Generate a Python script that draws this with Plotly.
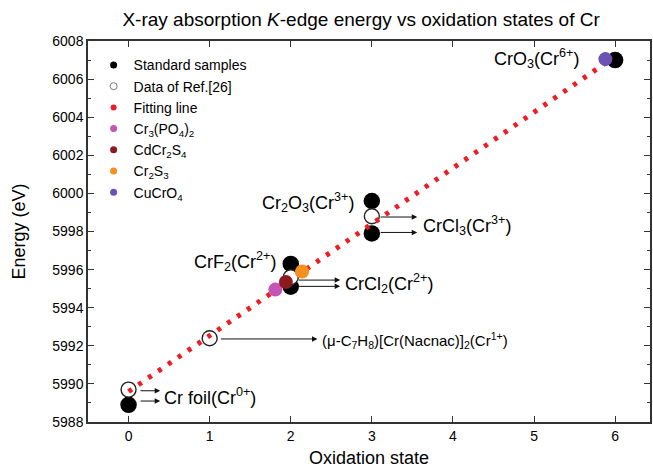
import plotly.graph_objects as go

# ---------------- data ----------------
std_x = [0, 2, 2, 3, 3, 6]
std_y = [5988.9, 5996.3, 5995.1, 5999.6, 5997.9, 6007.0]

ref_x = [0, 1, 2, 3]
ref_y = [5989.7, 5992.4, 5995.6, 5998.8]

fit_x = [0, 5.9]
fit_y = [5989.6, 6006.9]

crpo_x = [1.81]
crpo_y = [5994.95]
cdcrs_x = [1.94]
cdcrs_y = [5995.35]
cr2s3_x = [2.14]
cr2s3_y = [5995.9]
cucro_x = [5.88]
cucro_y = [6007.05]

x_ticks = [0, 1, 2, 3, 4, 5, 6]
y_ticks = [5988, 5990, 5992, 5994, 5996, 5998, 6000, 6002, 6004, 6006, 6008]

FONT = "Arial, 'Liberation Sans', sans-serif"
C_PO = "#c455b4"
C_CD = "#8b1a1e"
C_S3 = "#f5901f"
C_CU = "#6c50b4"
C_FIT = "#ee1c24"

fig = go.Figure()

# data traces (not in legend)
fig.add_trace(go.Scatter(x=std_x, y=std_y, mode="markers", showlegend=False,
                         marker=dict(color="black", size=16.5, line=dict(width=0))))
fig.add_trace(go.Scatter(x=ref_x, y=ref_y, mode="markers", showlegend=False,
                         marker=dict(color="white", size=15, line=dict(color="#222", width=1.4))))
fig.add_trace(go.Scatter(x=fit_x, y=fit_y, mode="lines", showlegend=False,
                         line=dict(color=C_FIT, width=5, dash="4px,8px")))
for xs, ys, c in [(crpo_x, crpo_y, C_PO), (cdcrs_x, cdcrs_y, C_CD),
                  (cr2s3_x, cr2s3_y, C_S3), (cucro_x, cucro_y, C_CU)]:
    fig.add_trace(go.Scatter(x=xs, y=ys, mode="markers", showlegend=False,
                             marker=dict(color=c, size=14, line=dict(width=0))))

# legend-only entries
legend_items = [
    ("Standard samples", dict(color="black", size=7)),
    ("Data of Ref.[26]", dict(color="white", size=7, line=dict(color="#777", width=1))),
    ("Fitting line", dict(color=C_FIT, size=6)),
    ("Cr<sub>3</sub>(PO<sub>4</sub>)<sub>2</sub>", dict(color=C_PO, size=7)),
    ("CdCr<sub>2</sub>S<sub>4</sub>", dict(color=C_CD, size=7)),
    ("Cr<sub>2</sub>S<sub>3</sub>", dict(color=C_S3, size=7)),
    ("CuCrO<sub>4</sub>", dict(color=C_CU, size=7)),
]
for name, mk in legend_items:
    fig.add_trace(go.Scatter(x=[None], y=[None], mode="markers", name=name, marker=mk))

ann_font = dict(family=FONT, size=18, color="black")
annotations = [
    dict(x=5.58, y=6007.1, text="CrO<sub>3</sub>(Cr<sup>6+</sup>)", xanchor="right"),
    dict(x=2.81, y=5999.5, text="Cr<sub>2</sub>O<sub>3</sub>(Cr<sup>3+</sup>)", xanchor="right"),
    dict(x=3.60, y=5998.3, text="CrCl<sub>3</sub>(Cr<sup>3+</sup>)", xanchor="left"),
    dict(x=1.84, y=5996.4, text="CrF<sub>2</sub>(Cr<sup>2+</sup>)", xanchor="right"),
    dict(x=2.64, y=5995.25, text="CrCl<sub>2</sub>(Cr<sup>2+</sup>)", xanchor="left"),
    dict(x=2.36, y=5992.3, text="(μ-C<sub>7</sub>H<sub>8</sub>)[Cr(Nacnac)]<sub>2</sub>(Cr<sup>1+</sup>)",
         xanchor="left", font=dict(family=FONT, size=15, color="black")),
    dict(x=0.41, y=5989.35, text="Cr foil(Cr<sup>0+</sup>)", xanchor="left"),
]
for a in annotations:
    a.setdefault("font", ann_font)
    fig.add_annotation(xref="x", yref="y", showarrow=False, yanchor="middle", **a)

arrows = [
    (0.13, 0.39, 5989.64), (0.13, 0.39, 5989.1),
    (1.12, 2.33, 5992.36),
    (2.08, 2.61, 5995.45), (2.08, 2.61, 5995.12),
    (3.09, 3.56, 5998.76), (3.09, 3.56, 5997.95),
]
for x0, x1, yy in arrows:
    fig.add_annotation(x=x1, y=yy, ax=x0, ay=yy, xref="x", yref="y", axref="x", ayref="y",
                       text="", showarrow=True, arrowhead=2, arrowsize=1.1,
                       arrowwidth=1, arrowcolor="#111")

axis_common = dict(showline=True, linecolor="#333", linewidth=1.5, mirror="ticks",
                   ticks="inside", ticklen=6, tickwidth=1.3, tickcolor="#333",
                   showgrid=False, zeroline=False,
                   tickfont=dict(family=FONT, size=14, color="black"))

fig.update_layout(
    width=653, height=470,
    margin=dict(l=88, r=1, t=41, b=48),
    paper_bgcolor="white", plot_bgcolor="white",
    title=dict(text="X-ray absorption <i>K</i>-edge energy vs oxidation states of Cr",
               x=0.553, xanchor="center", y=0.958, yanchor="middle",
               font=dict(family=FONT, size=19, color="black")),
    xaxis=dict(range=[-0.5, 6.43], tickvals=x_ticks,
               title=dict(text="Oxidation state", standoff=9,
                          font=dict(family=FONT, size=18, color="black")),
               **axis_common),
    yaxis=dict(range=[5988, 6008], tickvals=y_ticks,
               minor=dict(dtick=1, ticks="inside", ticklen=3, tickcolor="#333"),
               title=dict(text="Energy (eV)", standoff=22,
                          font=dict(family=FONT, size=18, color="black")),
               **axis_common),
    legend=dict(x=0.01, y=0.978, xanchor="left", yanchor="top",
                bgcolor="rgba(0,0,0,0)", borderwidth=0,
                font=dict(family=FONT, size=14, color="black"),
                itemsizing="trace", tracegroupgap=0),
)

fig.write_html("out.html")
